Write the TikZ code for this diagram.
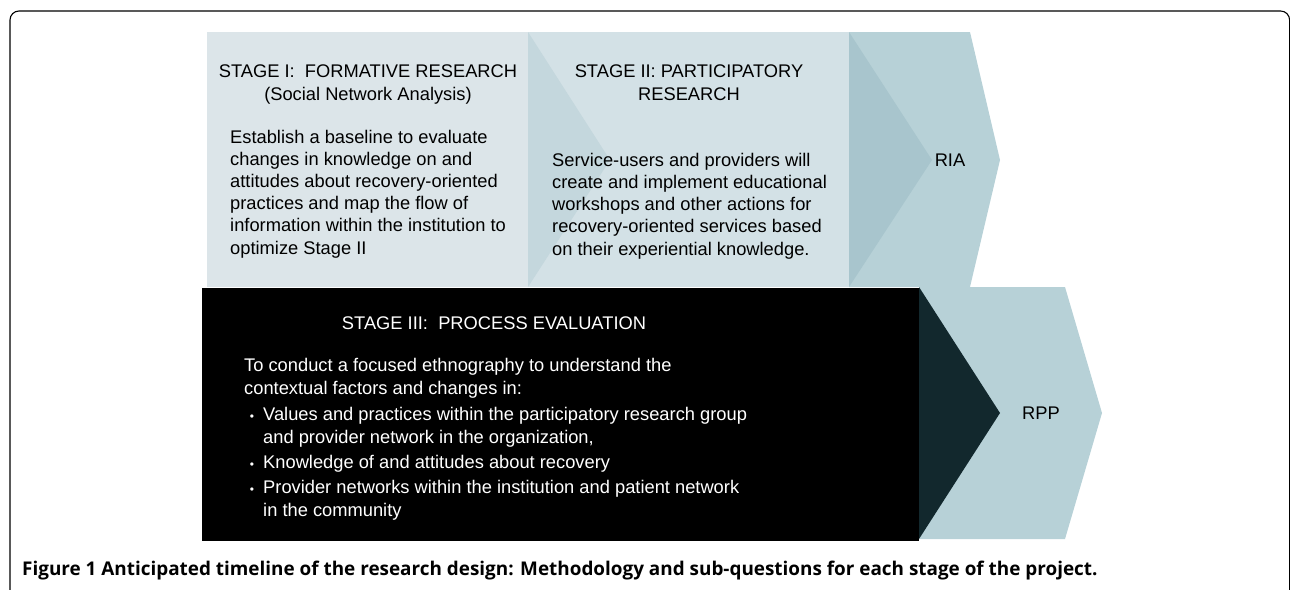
\documentclass[tikz,border=0pt]{standalone}
\usepackage{fontspec}
\setmainfont{Liberation Sans}
\newfontfamily\capfont{Open Sans}
\usetikzlibrary{calc}

\definecolor{stgone}{HTML}{DCE5E9}
\definecolor{stgtwo}{HTML}{D3E1E6}
\definecolor{tipone}{HTML}{C4D7DD}
\definecolor{riafill}{HTML}{B7D1D7}
\definecolor{tiptwo}{HTML}{A8C5CD}
\definecolor{tipthree}{HTML}{12282D}

\begin{document}
\begin{tikzpicture}[x=1pt,y=-1pt,
	txt/.style={inner sep=0pt,font=\fontsize{18.3}{22.2}\selectfont},
	head/.style={txt,anchor=base,align=center},
	body/.style={txt,anchor=base west,align=left},
	bul/.style={inner sep=0pt,anchor=base,font=\fontsize{12}{14}\selectfont,white}]
	\useasboundingbox (0,0) rectangle (1290,589);
	% marco
	\draw[line width=1.1pt,rounded corners=9pt] (10,640) -- (10,11) -- (1289.6,11) -- (1289.6,640);

	% fila de arriba: etapas I y II, RIA
	\fill[stgone] (207,32) rectangle (528,287);
	\fill[stgtwo] (528,32) rectangle (849,287);
	\fill[tipone] (528,32) -- (610,160) -- (528,287) -- cycle;
	\fill[riafill] (849,32) -- (970,32) -- (1000,160) -- (970,287) -- (849,287) -- cycle;
	\fill[tiptwo] (849,32) -- (932,160) -- (849,287) -- cycle;

	% fila de abajo: etapa III, RPP
	\fill[riafill] (919,287) -- (1065,287) -- (1102,413) -- (1065,539) -- (919,539) -- cycle;
	\fill[black] (202,288) rectangle (919,541);
	\fill[tipthree] (919,287) -- (1000,413) -- (919,539) -- cycle;

	% (base = ultima linea del nodo)
	\node[head] (oneh) at (368,100) {STAGE I:\ \ FORMATIVE RESEARCH\\(Social Network Analysis)};
	\node[body] (oneb) at (230,254) {Establish a baseline to evaluate\\changes in knowledge on and\\attitudes about recovery-oriented\\practices and map the flow of\\information within the institution to\\optimize Stage II};

	\node[head] (twoh) at (689,100) {STAGE II: PARTICIPATORY\\RESEARCH};
	\node[body] (twob) at (552,255) {Service-users and providers will\\create and implement educational\\workshops and other actions for\\recovery-oriented services based\\on their experiential knowledge.};

	\node[txt] (ria) at (950,160) {RIA};
	\node[txt] (rpp) at (1041,413) {RPP};

	\node[head,white] (threeh) at (494,329) {STAGE III:\ \ PROCESS EVALUATION};
	\node[body,white] (threeb) at (244,394) {To conduct a focused ethnography to understand the\\contextual factors and changes in:};
	\node[body,white] (itema) at (263,443) {Values and practices within the participatory research group\\and provider network in the organization,};
	\node[body,white] (itemb) at (263,468) {Knowledge of and attitudes about recovery};
	\node[body,white] (itemc) at (263,516) {Provider networks within the institution and patient network\\in the community};
	\node[bul] (dota) at ($(itema.base west)+(-11,-22.2)$) {\textbullet};
	\node[bul] (dotb) at ($(itemb.base west)+(-11,0)$) {\textbullet};
	\node[bul] (dotc) at ($(itemc.base west)+(-11,-22.2)$) {\textbullet};

	% pie de figura
	\node[inner sep=0pt,anchor=base west,font=\capfont\bfseries\fontsize{18.9}{21}\selectfont] (cap) at (22,575)
		{Figure 1 Anticipated timeline of the research design: Methodology and sub-questions for each stage of the project.};
\end{tikzpicture}
\end{document}
